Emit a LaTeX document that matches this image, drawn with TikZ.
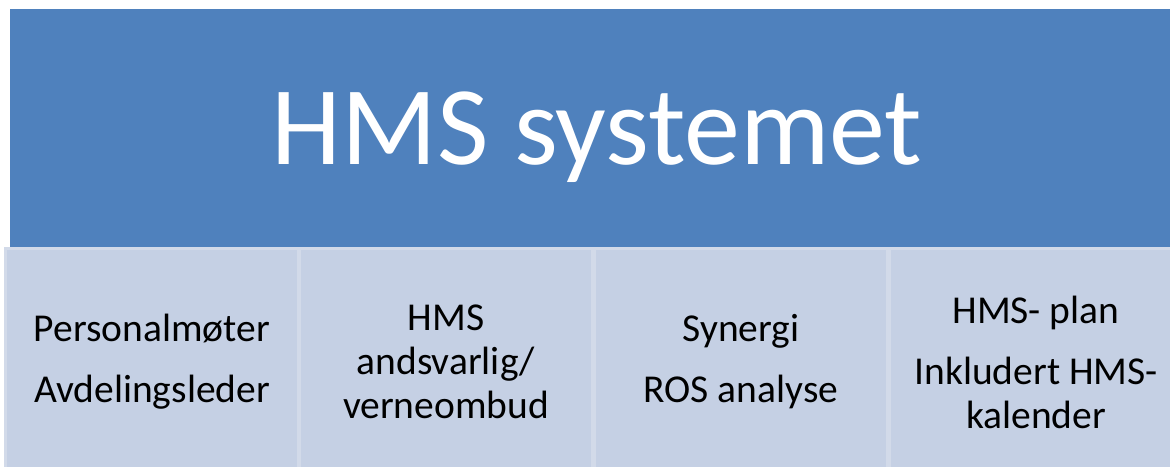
\documentclass[tikz,border=0pt]{standalone}
\usepackage{fontspec}
\setmainfont{Carlito}
\definecolor{hmsblue}{RGB}{79,129,189}
\definecolor{hmslight}{RGB}{197,208,228}
\definecolor{hmsedge}{RGB}{210,218,233}
\begin{document}
\begin{tikzpicture}[x=1pt,y=1pt,
  topbox/.style={draw=none,fill=hmsblue,minimum width=1160pt,minimum height=240pt,
    inner sep=0pt,text=white,font=\fontsize{112}{124}\selectfont,
    text height=80pt,text depth=8pt},
  subbox/.style={draw=hmsedge,line width=3pt,fill=hmslight,minimum width=293pt,
    minimum height=226pt,inner sep=0pt,align=flush center,text=black,
    font=\fontsize{39.5}{44}\selectfont,text width=280pt}
]
\useasboundingbox (0,0) rectangle (1170,466);
\clip (0,0) rectangle (1170,466);
\fill[white] (0,0) rectangle (1170,466);
\node[topbox] (top) at (590,337) {\hspace*{14pt}HMS systemet};
\node[subbox] (b1) at (152,104) {Personalmøter\\[17pt]Avdelingsleder};
\node[subbox] (b2) at (446,104) {HMS\\andsvarlig/\\verneombud};
\node[subbox] (b3) at (741,104) {Synergi\\[17pt]ROS analyse};
\node[subbox] (b4) at (1036,104) {HMS- plan\\[17pt]Inkludert HMS-\\kalender};
\end{tikzpicture}
\end{document}
